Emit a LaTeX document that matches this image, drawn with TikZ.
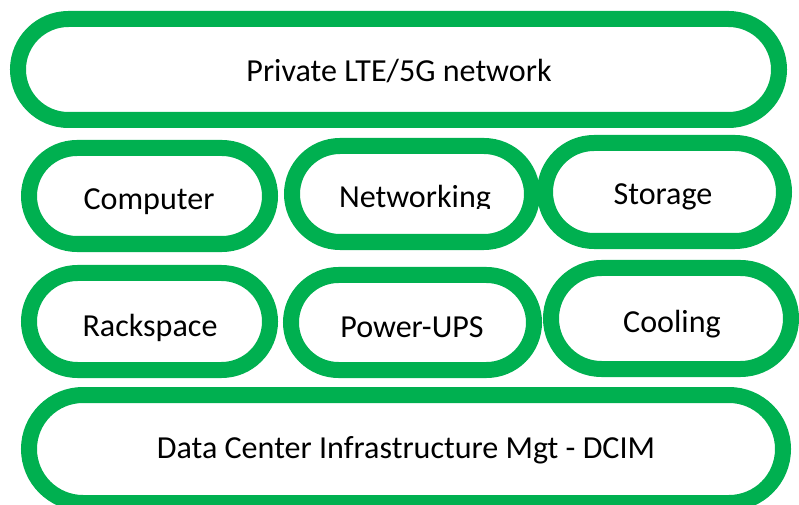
\documentclass[tikz,border=0pt]{standalone}
\usepackage{fontspec}
\setmainfont{Carlito}
\definecolor{pillgreen}{HTML}{00B050}
\tikzset{
  pill/.style={draw=pillgreen, line width=16bp, fill=white, inner sep=0pt, outer sep=0pt},
  lbl/.style={font=\fontsize{32.2}{38}\selectfont, text=black, inner sep=0pt, anchor=base}
}
\begin{document}
\begin{tikzpicture}[x=1bp,y=-1bp]
\useasboundingbox (0,0) rectangle (799,505);
% pills (centre-line sizes)
\node[pill, minimum width=761bp, minimum height=101bp, rounded corners=50.5bp] (lte) at (398.5,69.5) {};
\node[pill, minimum width=241bp, minimum height=96bp, rounded corners=48bp] (comp) at (149.5,196) {};
\node[pill, minimum width=240bp, minimum height=96bp, rounded corners=48bp] (net) at (412,194) {};
\node[pill, minimum width=239bp, minimum height=98bp, rounded corners=49bp] (stor) at (664.5,192) {};
\node[pill, minimum width=241bp, minimum height=97bp, rounded corners=48.5bp] (rack) at (149.5,321.5) {};
\node[pill, minimum width=243bp, minimum height=95bp, rounded corners=47.5bp] (ups) at (412.5,322.5) {};
\node[pill, minimum width=240bp, minimum height=101bp, rounded corners=50.5bp] (cool) at (671,318.5) {};
\node[pill, minimum width=754bp, minimum height=108bp, rounded corners=54bp] (dcim) at (406,449) {};
% labels
\node[lbl] (tlte) at (399,82) {Private LTE/5G network};
\node[lbl] (tcomp) at (149,210) {Computer};
\begin{scope}
\clip (300,150) rectangle (530,209);
\node[lbl] (tnet) at (415,208) {Networking};
\end{scope}
\node[lbl] (tstor) at (663,205) {Storage};
\node[lbl] (track) at (150,336) {Rackspace};
\node[lbl] (tups) at (412,337) {Power-UPS};
\node[lbl] (tcool) at (672,332) {Cooling};
\node[lbl] (tdcim) at (406,458) {Data Center Infrastructure Mgt - DCIM};
\end{tikzpicture}
\end{document}
